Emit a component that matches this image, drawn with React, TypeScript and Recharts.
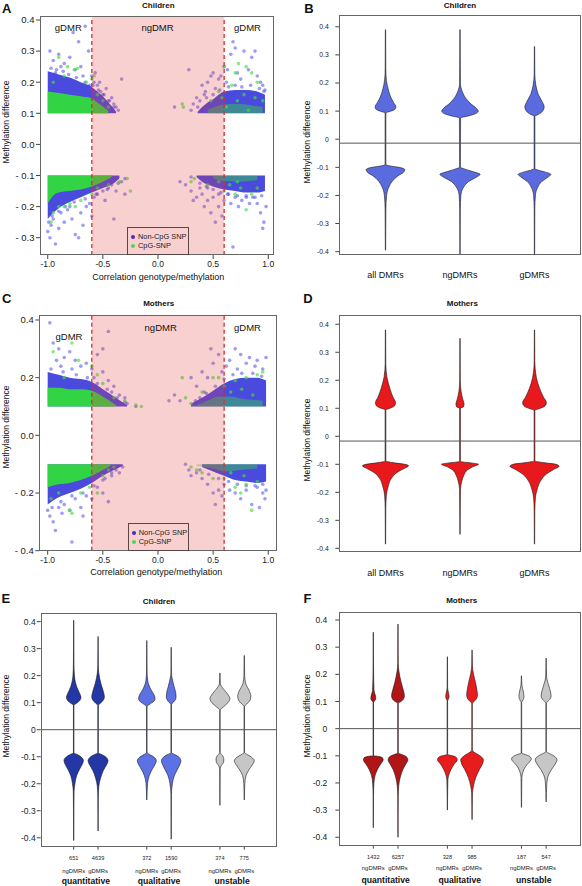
import React from 'react';
import { ComposedChart, Area, Scatter, XAxis, YAxis, ReferenceLine, ReferenceArea } from 'recharts';

const FONT = '"Liberation Sans", Arial, Helvetica, sans-serif';

// ---------------- Panels A / C : scatter (correlation vs methylation difference) ----------------
const corrTicks = [-1, -0.5, 0, 0.5, 1];
const aYTicks = [-0.3, -0.2, -0.1, 0, 0.1, 0.2, 0.3, 0.4];
const cYTicks = [-0.4, -0.2, 0, 0.2, 0.4];

// dense cluster envelopes: [correlation, low diff, high diff]
const aBlueTL = [[-1.0, 0.1, 0.235], [-0.9, 0.1, 0.225], [-0.8, 0.1, 0.215], [-0.7, 0.1, 0.2], [-0.6, 0.1, 0.185], [-0.55, 0.1, 0.17], [-0.5, 0.1, 0.155], [-0.45, 0.1, 0.135], [-0.4, 0.1, 0.115], [-0.38, 0.1, 0.105]];
const aGreenTL = [[-1.0, 0.1, 0.17], [-0.9, 0.1, 0.165], [-0.8, 0.1, 0.16], [-0.7, 0.1, 0.155], [-0.6, 0.1, 0.148], [-0.55, 0.1, 0.135], [-0.5, 0.1, 0.122], [-0.45, 0.1, 0.108]];
const aBlueTR = [[0.36, 0.1, 0.105], [0.4, 0.1, 0.12], [0.45, 0.1, 0.135], [0.5, 0.1, 0.145], [0.55, 0.1, 0.16], [0.6, 0.1, 0.17], [0.7, 0.1, 0.175], [0.8, 0.1, 0.175], [0.9, 0.1, 0.17], [0.97, 0.1, 0.16]];
const aGreenTR = [[0.45, 0.1, 0.11], [0.55, 0.1, 0.125], [0.65, 0.1, 0.13], [0.75, 0.1, 0.13], [0.85, 0.1, 0.125], [0.95, 0.1, 0.12]];
const aBlueBL = [[-1.0, -0.24, -0.1], [-0.95, -0.22, -0.1], [-0.9, -0.205, -0.1], [-0.8, -0.185, -0.1], [-0.7, -0.17, -0.1], [-0.6, -0.155, -0.1], [-0.5, -0.14, -0.1], [-0.4, -0.125, -0.1], [-0.35, -0.11, -0.1]];
const aGreenBL = [[-1.0, -0.19, -0.1], [-0.95, -0.165, -0.1], [-0.9, -0.155, -0.1], [-0.8, -0.15, -0.1], [-0.7, -0.145, -0.1], [-0.6, -0.135, -0.1], [-0.5, -0.12, -0.1], [-0.42, -0.105, -0.1]];
const aBlueBR = [[0.35, -0.105, -0.1], [0.4, -0.12, -0.1], [0.5, -0.135, -0.1], [0.6, -0.145, -0.1], [0.7, -0.15, -0.1], [0.8, -0.155, -0.1], [0.9, -0.155, -0.1], [0.97, -0.15, -0.1]];
const aGreenBR = [[0.5, -0.11, -0.1], [0.6, -0.118, -0.1], [0.75, -0.12, -0.1], [0.9, -0.115, -0.1]];

// sparse points: [correlation, diff]
const aBluePts = [
  [-0.98, 0.3], [-0.95, 0.27], [-0.9, 0.29], [-0.85, 0.26], [-0.8, 0.28], [-0.77, 0.36], [-0.72, 0.33], [-0.7, 0.25], [-0.66, 0.38], [-0.63, 0.3], [-0.6, 0.22], [-0.58, 0.2], [-0.55, 0.19], [-0.52, 0.17], [-0.5, 0.16], [-0.47, 0.18], [-0.45, 0.14], [-0.42, 0.15], [-0.4, 0.13], [-0.38, 0.12], [-0.33, 0.21], [-0.75, 0.24], [-0.88, 0.25], [-0.93, 0.23], [-0.68, 0.22], [-0.62, 0.19], [-0.57, 0.23], [-0.53, 0.2],
  [-0.97, 0.245], [-0.92, 0.24], [-0.86, 0.235], [-0.81, 0.225], [-0.74, 0.215], [-0.66, 0.2], [-0.59, 0.19], [-0.54, 0.175], [-0.49, 0.16], [-0.44, 0.14], [-0.4, 0.12], [-0.36, 0.11],
  [0.15, 0.12], [0.28, 0.24], [0.32, 0.13], [0.35, 0.15], [0.38, 0.14], [0.4, 0.19], [0.43, 0.17], [0.45, 0.2], [0.48, 0.22], [0.5, 0.23], [0.52, 0.18], [0.55, 0.21], [0.57, 0.22], [0.6, 0.25], [0.63, 0.24], [0.66, 0.29], [0.68, 0.33], [0.7, 0.31], [0.72, 0.23], [0.75, 0.21], [0.78, 0.3], [0.82, 0.24], [0.85, 0.28], [0.88, 0.3], [0.9, 0.22], [0.93, 0.2], [0.95, 0.19], [0.97, 0.175], [0.62, 0.2], [0.42, 0.16],
  [0.44, 0.15], [0.5, 0.16], [0.56, 0.175], [0.64, 0.185], [0.7, 0.19], [0.76, 0.185], [0.84, 0.19], [0.92, 0.18], [0.96, 0.17], [0.4, 0.11], [0.36, 0.12], [0.3, 0.11],
  [-1.0, -0.28], [-0.98, -0.3], [-0.97, -0.26], [-0.95, -0.24], [-0.93, -0.32], [-0.9, -0.27], [-0.88, -0.22], [-0.85, -0.25], [-0.82, -0.21], [-0.78, -0.24], [-0.75, -0.29], [-0.72, -0.3], [-0.7, -0.22], [-0.65, -0.2], [-0.62, -0.19], [-0.58, -0.17], [-0.55, -0.16], [-0.5, -0.15], [-0.45, -0.14], [-0.42, -0.13], [-0.4, -0.24], [-0.3, -0.16], [-0.33, -0.12], [-0.38, -0.15], [-0.68, -0.26], [-0.8, -0.2], [-0.6, -0.23], [-0.48, -0.18],
  [-0.99, -0.25], [-0.96, -0.23], [-0.9, -0.215], [-0.84, -0.2], [-0.76, -0.185], [-0.66, -0.175], [-0.56, -0.16], [-0.46, -0.145], [-0.36, -0.125], [-0.3, -0.11],
  [0.2, -0.12], [0.25, -0.13], [0.3, -0.15], [0.32, -0.18], [0.35, -0.17], [0.38, -0.14], [0.4, -0.16], [0.42, -0.2], [0.45, -0.18], [0.48, -0.22], [0.5, -0.17], [0.52, -0.25], [0.55, -0.2], [0.58, -0.23], [0.6, -0.18], [0.63, -0.16], [0.66, -0.19], [0.68, -0.33], [0.7, -0.17], [0.73, -0.2], [0.76, -0.18], [0.8, -0.17], [0.83, -0.19], [0.86, -0.17], [0.9, -0.19], [0.93, -0.22], [0.95, -0.27], [0.96, -0.25], [0.98, -0.2], [0.55, -0.16], [0.45, -0.14],
  [0.38, -0.125], [0.44, -0.135], [0.5, -0.145], [0.57, -0.155], [0.64, -0.16], [0.72, -0.165], [0.8, -0.165], [0.88, -0.17], [0.94, -0.165], [0.3, -0.105],
];
const aGreenPts = [
  [-0.9, 0.28], [-0.82, 0.25], [-0.76, 0.24], [-0.73, 0.245], [-0.6, 0.21], [-0.58, 0.22], [-0.55, 0.16], [-0.5, 0.14], [-0.45, 0.12], [-0.85, 0.22], [-0.95, 0.2], [-0.65, 0.2],
  [0.22, 0.13], [0.23, 0.12], [0.55, 0.17], [0.6, 0.25], [0.7, 0.23], [0.73, 0.26], [0.8, 0.25], [0.85, 0.23], [0.9, 0.2], [0.67, 0.19], [0.78, 0.16], [0.48, 0.14], [0.58, 0.15], [0.88, 0.15], [0.95, 0.14], [0.62, 0.12], [0.72, 0.14], [0.82, 0.11],
  [-0.95, -0.22], [-0.9, -0.2], [-0.85, -0.2], [-0.8, -0.19], [-0.75, -0.2], [-0.7, -0.18], [-0.6, -0.16], [-0.55, -0.14], [-0.45, -0.13], [-0.35, -0.12], [-0.28, -0.11], [-0.25, -0.15], [-0.97, -0.25],
  [0.3, -0.12], [0.33, -0.11], [0.45, -0.13], [0.6, -0.15], [0.7, -0.16], [0.75, -0.14], [0.8, -0.21], [0.85, -0.16], [0.9, -0.14], [0.65, -0.13], [0.55, -0.12], [0.72, -0.12],
];

const cBlueTL = [[-1.0, 0.1, 0.22], [-0.9, 0.1, 0.21], [-0.8, 0.1, 0.2], [-0.7, 0.1, 0.195], [-0.6, 0.1, 0.185], [-0.5, 0.1, 0.16], [-0.4, 0.1, 0.135], [-0.32, 0.1, 0.115], [-0.28, 0.1, 0.105]];
const cGreenTL = [[-1.0, 0.1, 0.165], [-0.9, 0.1, 0.165], [-0.8, 0.1, 0.16], [-0.7, 0.1, 0.16], [-0.6, 0.1, 0.155], [-0.5, 0.1, 0.135], [-0.42, 0.1, 0.115], [-0.38, 0.1, 0.105]];
const cBlueTR = [[0.3, 0.1, 0.11], [0.4, 0.1, 0.13], [0.5, 0.1, 0.155], [0.6, 0.1, 0.18], [0.7, 0.1, 0.195], [0.8, 0.1, 0.2], [0.9, 0.1, 0.2], [0.98, 0.1, 0.19]];
const cGreenTR = [[0.35, 0.1, 0.105], [0.45, 0.1, 0.12], [0.55, 0.1, 0.135], [0.65, 0.1, 0.135], [0.8, 0.1, 0.125], [0.95, 0.1, 0.12]];
const cBlueBL = [[-1.0, -0.24, -0.1], [-0.9, -0.215, -0.1], [-0.8, -0.2, -0.1], [-0.7, -0.185, -0.1], [-0.6, -0.165, -0.1], [-0.5, -0.14, -0.1], [-0.4, -0.12, -0.1], [-0.32, -0.105, -0.1]];
const cGreenBL = [[-1.0, -0.18, -0.1], [-0.9, -0.17, -0.1], [-0.8, -0.165, -0.1], [-0.7, -0.155, -0.1], [-0.6, -0.14, -0.1], [-0.5, -0.12, -0.1], [-0.43, -0.105, -0.1]];
const cBlueBR = [[0.4, -0.11, -0.1], [0.5, -0.125, -0.1], [0.6, -0.14, -0.1], [0.7, -0.155, -0.1], [0.8, -0.16, -0.1], [0.9, -0.165, -0.1], [0.98, -0.16, -0.1]];
const cGreenBR = [[0.35, -0.105, -0.1], [0.5, -0.115, -0.1], [0.6, -0.125, -0.1], [0.75, -0.12, -0.1], [0.9, -0.115, -0.1]];

const cBluePts = [
  [-0.98, 0.39], [-0.95, 0.32], [-0.9, 0.3], [-0.85, 0.27], [-0.8, 0.29], [-0.75, 0.26], [-0.7, 0.24], [-0.65, 0.25], [-0.6, 0.23], [-0.55, 0.28], [-0.5, 0.3], [-0.45, 0.36], [-0.5, 0.22], [-0.45, 0.19], [-0.4, 0.17], [-0.35, 0.14], [-0.3, 0.13], [-0.28, 0.11], [-0.2, 0.1], [-0.88, 0.24], [-0.78, 0.23], [-0.58, 0.2], [-0.42, 0.15], [-0.92, 0.26],
  [-0.97, 0.23], [-0.86, 0.22], [-0.74, 0.21], [-0.64, 0.2], [-0.55, 0.18], [-0.46, 0.16], [-0.37, 0.13], [-0.3, 0.115],
  [0.1, 0.12], [0.15, 0.14], [0.2, 0.12], [0.3, 0.2], [0.35, 0.17], [0.4, 0.22], [0.45, 0.2], [0.48, 0.3], [0.5, 0.25], [0.55, 0.28], [0.58, 0.22], [0.62, 0.24], [0.65, 0.26], [0.7, 0.3], [0.72, 0.23], [0.75, 0.28], [0.8, 0.25], [0.83, 0.27], [0.88, 0.24], [0.9, 0.26], [0.95, 0.23], [0.98, 0.27], [0.42, 0.15], [0.38, 0.13],
  [0.34, 0.12], [0.44, 0.145], [0.52, 0.17], [0.6, 0.195], [0.68, 0.21], [0.76, 0.215], [0.86, 0.215], [0.94, 0.205],
  [-1.0, -0.26], [-0.98, -0.28], [-0.95, -0.3], [-0.93, -0.33], [-0.9, -0.25], [-0.87, -0.27], [-0.85, -0.24], [-0.8, -0.26], [-0.78, -0.37], [-0.75, -0.22], [-0.7, -0.25], [-0.65, -0.21], [-0.6, -0.22], [-0.55, -0.18], [-0.5, -0.2], [-0.48, -0.15], [-0.45, -0.23], [-0.42, -0.14], [-0.38, -0.12], [-0.35, -0.13], [-0.32, -0.11], [-0.68, -0.28],
  [-0.96, -0.25], [-0.88, -0.23], [-0.78, -0.21], [-0.68, -0.2], [-0.58, -0.175], [-0.5, -0.155], [-0.42, -0.13],
  [0.25, -0.1], [0.28, -0.12], [0.3, -0.14], [0.35, -0.13], [0.4, -0.15], [0.45, -0.17], [0.5, -0.2], [0.55, -0.19], [0.52, -0.24], [0.58, -0.21], [0.6, -0.17], [0.65, -0.19], [0.7, -0.2], [0.75, -0.22], [0.8, -0.19], [0.85, -0.24], [0.9, -0.18], [0.95, -0.2], [0.97, -0.22], [0.98, -0.19], [0.92, -0.25],
  [0.38, -0.12], [0.46, -0.135], [0.55, -0.15], [0.64, -0.16], [0.72, -0.17], [0.8, -0.175], [0.88, -0.175], [0.95, -0.17],
];
const cGreenPts = [
  [-0.95, 0.29], [-0.78, 0.32], [-0.72, 0.26], [-0.6, 0.24], [-0.55, 0.21], [-0.5, 0.18], [-0.4, 0.13], [-0.3, 0.12], [-0.2, 0.105], [-0.15, 0.1], [-0.85, 0.2],
  [0.22, 0.2], [0.25, 0.13], [0.3, 0.11], [0.4, 0.15], [0.5, 0.2], [0.55, 0.2], [0.6, 0.17], [0.7, 0.19], [0.8, 0.2], [0.9, 0.21], [0.95, 0.22], [0.66, 0.15], [0.76, 0.16], [0.86, 0.14],
  [-0.97, -0.22], [-0.9, -0.2], [-0.8, -0.26], [-0.78, -0.27], [-0.7, -0.2], [-0.62, -0.18], [-0.55, -0.2], [-0.5, -0.14], [-0.45, -0.12], [-0.4, -0.11],
  [0.3, -0.11], [0.35, -0.12], [0.4, -0.13], [0.5, -0.15], [0.6, -0.15], [0.7, -0.18], [0.75, -0.2], [0.85, -0.26], [0.9, -0.16], [0.8, -0.17], [0.66, -0.13], [0.78, -0.14],
];

// ---------------- Panels B / D : violins (all / ng / g DMRs) ----------------
const dmrNames = ['all DMRs', 'ngDMRs', 'gDMRs'];
const dmrPos = [1, 2, 3];
const violinYTicks = [-0.4, -0.3, -0.2, -0.1, 0, 0.1, 0.2, 0.3, 0.4];
// profiles: [methylation difference, half density width]
const bAll = [[0.39, 0.002], [0.25, 0.004], [0.21, 0.012], [0.18, 0.035], [0.15, 0.07], [0.13, 0.11], [0.115, 0.14], [0.105, 0.12], [0.098, 0.05], [0.094, 0.005], [-0.09, 0.005], [-0.095, 0.06], [-0.1, 0.18], [-0.108, 0.26], [-0.118, 0.24], [-0.13, 0.17], [-0.15, 0.09], [-0.17, 0.045], [-0.2, 0.015], [-0.25, 0.005], [-0.395, 0.002]];
const bNg = [[0.39, 0.002], [0.2, 0.005], [0.17, 0.03], [0.145, 0.08], [0.125, 0.15], [0.11, 0.22], [0.1, 0.245], [0.09, 0.2], [0.082, 0.1], [0.076, 0.008], [-0.1, 0.005], [-0.105, 0.05], [-0.115, 0.17], [-0.125, 0.27], [-0.135, 0.22], [-0.15, 0.12], [-0.17, 0.05], [-0.2, 0.012], [-0.25, 0.004], [-0.42, 0.002]];
const bG = [[0.33, 0.002], [0.23, 0.004], [0.19, 0.02], [0.16, 0.05], [0.135, 0.1], [0.115, 0.13], [0.1, 0.11], [0.088, 0.05], [0.082, 0.005], [-0.105, 0.005], [-0.11, 0.05], [-0.118, 0.16], [-0.125, 0.22], [-0.135, 0.18], [-0.15, 0.1], [-0.17, 0.045], [-0.2, 0.012], [-0.25, 0.004], [-0.42, 0.002]];

const dAll = [[0.38, 0.002], [0.26, 0.004], [0.21, 0.02], [0.17, 0.06], [0.14, 0.1], [0.12, 0.135], [0.108, 0.12], [0.1, 0.06], [0.094, 0.005], [-0.088, 0.005], [-0.094, 0.1], [-0.1, 0.26], [-0.105, 0.31], [-0.115, 0.25], [-0.13, 0.15], [-0.15, 0.08], [-0.18, 0.035], [-0.21, 0.012], [-0.26, 0.004], [-0.385, 0.002]];
const dNg = [[0.35, 0.002], [0.2, 0.004], [0.16, 0.015], [0.13, 0.04], [0.115, 0.055], [0.105, 0.045], [0.1, 0.005], [-0.09, 0.005], [-0.095, 0.15], [-0.1, 0.25], [-0.108, 0.18], [-0.12, 0.1], [-0.14, 0.05], [-0.16, 0.025], [-0.19, 0.006], [-0.35, 0.002]];
const dG = [[0.38, 0.002], [0.27, 0.004], [0.21, 0.025], [0.17, 0.07], [0.14, 0.12], [0.12, 0.16], [0.108, 0.14], [0.098, 0.06], [0.093, 0.005], [-0.088, 0.005], [-0.094, 0.12], [-0.1, 0.29], [-0.107, 0.33], [-0.118, 0.26], [-0.135, 0.16], [-0.16, 0.08], [-0.19, 0.035], [-0.22, 0.012], [-0.27, 0.004], [-0.385, 0.002]];

// ---------------- Panels E / F : violins by DMR class ----------------
const classPos = [1, 2, 4, 5, 7, 8];
const classKinds = ['ngDMRs', 'gDMRs', 'ngDMRs', 'gDMRs', 'ngDMRs', 'gDMRs'];
const groupNames = ['quantitative', 'qualitative', 'unstable'];
const groupPos = [1.5, 4.5, 7.5];
const eCounts = ['651', '4639', '372', '1590', '374', '775'];
const fCounts = ['1432', '6257', '328', '985', '187', '547'];

const eQuantNg = [[0.405, 0.004], [0.25, 0.01], [0.2, 0.03], [0.16, 0.12], [0.135, 0.24], [0.12, 0.3], [0.108, 0.25], [0.098, 0.12], [0.09, 0.01], [-0.085, 0.01], [-0.092, 0.15], [-0.102, 0.32], [-0.115, 0.4], [-0.13, 0.34], [-0.15, 0.22], [-0.17, 0.12], [-0.2, 0.05], [-0.23, 0.015], [-0.3, 0.008], [-0.41, 0.004]];
const eQuantG = [[0.345, 0.004], [0.24, 0.01], [0.21, 0.03], [0.17, 0.12], [0.14, 0.22], [0.122, 0.26], [0.11, 0.22], [0.098, 0.1], [0.09, 0.01], [-0.085, 0.01], [-0.092, 0.15], [-0.102, 0.33], [-0.115, 0.41], [-0.13, 0.35], [-0.15, 0.22], [-0.18, 0.1], [-0.21, 0.03], [-0.25, 0.01], [-0.375, 0.004]];
const eQualNg = [[0.33, 0.004], [0.22, 0.01], [0.18, 0.04], [0.15, 0.16], [0.128, 0.3], [0.115, 0.34], [0.103, 0.26], [0.093, 0.1], [0.086, 0.01], [-0.085, 0.01], [-0.092, 0.12], [-0.102, 0.3], [-0.115, 0.39], [-0.13, 0.33], [-0.15, 0.2], [-0.17, 0.1], [-0.2, 0.03], [-0.26, 0.004]];
const eQualG = [[0.305, 0.004], [0.21, 0.01], [0.19, 0.04], [0.16, 0.12], [0.135, 0.19], [0.12, 0.2], [0.108, 0.15], [0.098, 0.05], [0.095, 0.01], [-0.085, 0.01], [-0.092, 0.15], [-0.102, 0.32], [-0.115, 0.4], [-0.13, 0.35], [-0.15, 0.24], [-0.17, 0.13], [-0.2, 0.05], [-0.24, 0.01], [-0.405, 0.004]];
const eUnstNg = [[0.21, 0.004], [0.17, 0.02], [0.15, 0.15], [0.13, 0.33], [0.115, 0.41], [0.1, 0.33], [0.085, 0.15], [0.072, 0.01], [-0.085, 0.01], [-0.095, 0.1], [-0.108, 0.16], [-0.12, 0.15], [-0.132, 0.06], [-0.145, 0.01], [-0.28, 0.004]];
const eUnstG = [[0.275, 0.004], [0.2, 0.015], [0.17, 0.06], [0.145, 0.2], [0.125, 0.27], [0.11, 0.24], [0.095, 0.1], [0.086, 0.01], [-0.085, 0.01], [-0.092, 0.12], [-0.102, 0.3], [-0.115, 0.41], [-0.13, 0.33], [-0.15, 0.18], [-0.17, 0.07], [-0.2, 0.02], [-0.26, 0.004]];

const fQuantNg = [[0.355, 0.004], [0.22, 0.01], [0.14, 0.03], [0.12, 0.09], [0.11, 0.1], [0.102, 0.05], [0.097, 0.01], [-0.1, 0.01], [-0.102, 0.2], [-0.108, 0.38], [-0.115, 0.4], [-0.13, 0.3], [-0.15, 0.17], [-0.17, 0.08], [-0.2, 0.025], [-0.25, 0.008], [-0.365, 0.004]];
const fQuantG = [[0.385, 0.004], [0.24, 0.01], [0.21, 0.04], [0.17, 0.13], [0.14, 0.22], [0.122, 0.26], [0.11, 0.23], [0.1, 0.12], [0.094, 0.01], [-0.09, 0.01], [-0.096, 0.18], [-0.105, 0.36], [-0.115, 0.4], [-0.13, 0.32], [-0.15, 0.2], [-0.18, 0.09], [-0.21, 0.03], [-0.25, 0.01], [-0.4, 0.004]];
const fQualNg = [[0.265, 0.004], [0.15, 0.01], [0.13, 0.05], [0.118, 0.07], [0.108, 0.04], [0.103, 0.01], [-0.095, 0.01], [-0.1, 0.22], [-0.108, 0.38], [-0.115, 0.4], [-0.13, 0.28], [-0.15, 0.15], [-0.17, 0.06], [-0.19, 0.02], [-0.3, 0.004]];
const fQualG = [[0.29, 0.004], [0.23, 0.015], [0.2, 0.06], [0.17, 0.14], [0.14, 0.2], [0.125, 0.22], [0.11, 0.18], [0.1, 0.08], [0.092, 0.01], [-0.08, 0.01], [-0.09, 0.14], [-0.1, 0.32], [-0.115, 0.46], [-0.13, 0.42], [-0.15, 0.3], [-0.18, 0.15], [-0.21, 0.06], [-0.24, 0.015], [-0.335, 0.004]];
const fUnstNg = [[0.195, 0.004], [0.16, 0.02], [0.135, 0.08], [0.118, 0.1], [0.105, 0.06], [0.098, 0.01], [-0.09, 0.01], [-0.096, 0.18], [-0.104, 0.36], [-0.112, 0.4], [-0.125, 0.3], [-0.14, 0.16], [-0.16, 0.06], [-0.18, 0.015], [-0.29, 0.004]];
const fUnstG = [[0.26, 0.004], [0.19, 0.02], [0.16, 0.1], [0.135, 0.18], [0.12, 0.2], [0.108, 0.15], [0.1, 0.06], [0.094, 0.01], [-0.085, 0.01], [-0.092, 0.14], [-0.102, 0.34], [-0.115, 0.44], [-0.13, 0.37], [-0.15, 0.22], [-0.17, 0.1], [-0.2, 0.03], [-0.27, 0.004]];

// ---------------- colours ----------------
const BLUE = '#2a2ad8';
const GREEN = '#2fe62f';
const PT_BLUE = '#3c3ce8';
const PT_GREEN = '#3fe03f';
const CH_BLUE = '#5a6be0';
const MO_RED = '#e8191c';
const Q_BLUE = '#2338a6';
const QL_BLUE = '#5c71e4';
const Q_RED = '#b01518';
const QL_RED = '#e81c1c';
const GREY = '#c6c6c6';

// ---------------- helpers ----------------
type Box = { l: number; t: number; r: number; b: number };
type Outer = { x: number; y: number; w: number; h: number };
// axes take 1px (YAxis width) and 1px per bottom XAxis
const marginOf = (o: Outer, b: Box, nX: number) => ({ left: b.l - o.x - 1, top: b.t - o.y, right: o.x + o.w - b.r, bottom: o.y + o.h - b.b - nX });
const envRows = (env: number[][]) => env.map(([x, lo, hi]) => ({ x, r: [lo, hi] }));
const ptRows = (pts: number[][]) => pts.map(([x, y]) => ({ x, y }));
const violinRows = (pos: number, prof: number[][]) => prof.map(([y, w]) => ({ y, r: [pos - w, pos + w] }));
const NBSP = '\u00a0';
const fmtScatterY = (v: number) => (v < 0 ? `-${NBSP}${Math.abs(v).toFixed(1)}` : v.toFixed(1));
const fmtViolinY = (v: number) => (v === 0 ? '0' : v.toFixed(1));

const dot = (color: string, op: number) => (p: any) => (
  <circle cx={p.cx} cy={p.cy} r={1.8} fill={color} fillOpacity={op} />
);

function T({ x, y, size, bold, rot, children }: any) {
  return (
    <div
      style={{
        position: 'absolute', left: x, top: y,
        transform: `translate(-50%, -50%)${rot ? ' rotate(-90deg)' : ''}`,
        fontSize: size, fontWeight: bold ? 700 : 400, lineHeight: 1, whiteSpace: 'nowrap',
        color: '#111', fontFamily: FONT,
      }}
    >
      {children}
    </div>
  );
}

function Frame({ b }: { b: Box }) {
  return (
    <div style={{ position: 'absolute', left: b.l, top: b.t, width: b.r - b.l, height: b.b - b.t, border: '1px solid #666', boxSizing: 'border-box', pointerEvents: 'none' }} />
  );
}

function ScatterPanel({ o, b, xDomain, yDomain, yTicks, blueEnv, greenEnv, greenEnvLight, bluePts, greenPts }: any) {
  return (
    <div style={{ position: 'absolute', left: o.x, top: o.y, width: o.w, height: o.h }}>
      <ComposedChart width={o.w} height={o.h} margin={marginOf(o, b, 1)}>
        <XAxis type="number" dataKey="x" domain={xDomain} allowDataOverflow ticks={corrTicks} interval={0}
          tickFormatter={(v: number) => v.toFixed(1)} height={1} axisLine={false} tickSize={4} tickMargin={2}
          stroke="#444" tick={{ fontSize: 8.5, fill: '#222', fontFamily: FONT }} />
        <YAxis type="number" dataKey="y" domain={yDomain} allowDataOverflow ticks={yTicks} interval={0}
          tickFormatter={fmtScatterY} width={1} axisLine={false} tickSize={4} tickMargin={1.5}
          stroke="#444" tick={{ fontSize: 9.5, fill: '#222', fontFamily: FONT }} />
        {blueEnv.map((e: number[][], i: number) => (
          <Area key={'be' + i} data={envRows(e)} dataKey="r" type="monotone" stroke="none" fill={BLUE} fillOpacity={0.85} isAnimationActive={false} />
        ))}
        {greenEnv.map((e: number[][], i: number) => (
          <Area key={'ge' + i} data={envRows(e)} dataKey="r" type="monotone" stroke="none" fill={GREEN} fillOpacity={0.88} isAnimationActive={false} />
        ))}
        {greenEnvLight.map((e: number[][], i: number) => (
          <Area key={'gl' + i} data={envRows(e)} dataKey="r" type="monotone" stroke="none" fill={GREEN} fillOpacity={0.4} isAnimationActive={false} />
        ))}
        <Scatter data={ptRows(bluePts)} fill={PT_BLUE} shape={dot(PT_BLUE, 0.5)} isAnimationActive={false} />
        <Scatter data={ptRows(greenPts)} fill={PT_GREEN} shape={dot(PT_GREEN, 0.65)} isAnimationActive={false} />
        <ReferenceArea x1={-0.6} x2={0.6} y1={yDomain[0]} y2={yDomain[1]} fill="#e23b3b" fillOpacity={0.24} stroke="none" ifOverflow="hidden" zIndex={650} />
        <ReferenceLine x={-0.6} stroke="#d62f2b" strokeDasharray="4 3" strokeWidth={1.3} zIndex={700} />
        <ReferenceLine x={0.6} stroke="#d62f2b" strokeDasharray="4 3" strokeWidth={1.3} zIndex={700} />
      </ComposedChart>
    </div>
  );
}

function ViolinPanel({ o, b, yDomain, hLine, violins, yFont, yTickMargin, xAxis, xAxis2 }: any) {
  return (
    <div style={{ position: 'absolute', left: o.x, top: o.y, width: o.w, height: o.h }}>
      <ComposedChart layout="vertical" width={o.w} height={o.h} margin={marginOf(o, b, xAxis2 ? 2 : 1)}>
        {xAxis}
        {xAxis2}
        <YAxis type="number" dataKey="y" reversed domain={yDomain} allowDataOverflow ticks={violinYTicks} interval={0}
          tickFormatter={fmtViolinY} width={1} axisLine={false} tickSize={4} tickMargin={yTickMargin}
          stroke="#444" tick={{ fontSize: yFont, fill: '#222', fontFamily: FONT }} />
        <ReferenceLine y={hLine} stroke="#555" strokeWidth={1} />
        {violins.map((v: any, i: number) => (
          <Area key={'v' + i} data={violinRows(v.pos, v.prof)} dataKey="r" type="monotone"
            stroke="#1a1a1a" strokeWidth={0.6} fill={v.color} fillOpacity={1} isAnimationActive={false} />
        ))}
      </ComposedChart>
    </div>
  );
}

const makeDmrTick = (d: number) => (p: any) => (
  <text x={p.x} y={p.y + d} textAnchor="middle" dominantBaseline="central" fontSize={9} fill="#111" fontFamily={FONT}>
    {dmrNames[dmrPos.indexOf(p.payload.value)]}
  </text>
);
const dmrAxis = (d: number) => (
  <XAxis type="number" domain={[0.38, 3.62]} allowDataOverflow ticks={dmrPos} interval={0}
    height={1} axisLine={false} tickLine={false} tickSize={0} tickMargin={0} tick={makeDmrTick(d)} />
);

const makeCountTick = (counts: string[], d1: number, d2: number) => (p: any) => {
  const i = classPos.indexOf(p.payload.value);
  return (
    <g>
      <text x={p.x} y={p.y + d1} textAnchor="middle" dominantBaseline="central" fontSize={5.6} fill="#222" fontFamily={FONT}>{counts[i]}</text>
      <text x={p.x} y={p.y + d2} textAnchor="middle" dominantBaseline="central" fontSize={5.9} fill="#222" fontFamily={FONT}>{classKinds[i]}</text>
    </g>
  );
};
const makeGroupTick = (d: number) => (p: any) => {
  const i = groupPos.indexOf(p.payload.value);
  return (
    <text x={p.x} y={p.y + d} textAnchor="middle" dominantBaseline="central" fontSize={8.6} fontWeight="bold" fill="#111" fontFamily={FONT}>{groupNames[i]}</text>
  );
};
const classAxis = (domain: number[], counts: string[], d1: number, d2: number) => (
  <XAxis type="number" domain={domain} allowDataOverflow ticks={classPos} interval={0} height={1}
    axisLine={false} tickSize={3} tickMargin={0} stroke="#444" tick={makeCountTick(counts, d1, d2)} />
);
const groupAxis = (domain: number[], d: number) => (
  <XAxis xAxisId="grp" type="number" domain={domain} allowDataOverflow ticks={groupPos} interval={0} height={1}
    axisLine={false} tickLine={false} tickSize={0} tickMargin={0} tick={makeGroupTick(d)} />
);

// ---------------- layout ----------------
const oA = { x: 0, y: 0, w: 291, h: 290 }; const bA = { l: 40, t: 16, r: 274, b: 255 };
const oB = { x: 290, y: 0, w: 292, h: 290 }; const bB = { l: 339.3, t: 15, r: 580.7, b: 255 };
const oC = { x: 0, y: 290, w: 291, h: 296 }; const bC = { l: 39.3, t: 315, r: 277.3, b: 550.7 };
const oD = { x: 290, y: 290, w: 292, h: 296 }; const bD = { l: 339.3, t: 315, r: 580.7, b: 551.7 };
const oE = { x: 0, y: 586, w: 291, h: 300 }; const bE = { l: 40.7, t: 612.7, r: 276.7, b: 846.7 };
const oF = { x: 290, y: 586, w: 292, h: 300 }; const bF = { l: 339.3, t: 611.7, r: 580.7, b: 845.7 };

const eDomain = [-0.354, 9.33];
const fDomain = [-0.377, 9.4];

function Legend({ l, t, w, h }: any) {
  const row = (color: string, label: string, top: number) => (
    <div style={{ position: 'absolute', left: 3, top, display: 'flex', alignItems: 'center', fontSize: 7.4, lineHeight: 1, whiteSpace: 'nowrap', fontFamily: FONT, color: '#222' }}>
      <span style={{ display: 'inline-block', width: 4, height: 4, borderRadius: 2, background: color, marginRight: 3 }} />
      {label}
    </div>
  );
  return (
    <div style={{ position: 'absolute', left: l, top: t, width: w, height: h, border: '1px solid #5b4444', boxSizing: 'border-box' }}>
      {row('#4a2bc8', 'Non-CpG SNP', 5)}
      {row('#4fd84f', 'CpG-SNP', 14)}
    </div>
  );
}

export default function App() {
  return (
    <div style={{ position: 'absolute', left: 0, top: 0, width: 582, height: 886, background: '#fff', overflow: 'hidden', fontFamily: FONT }}>
      <ScatterPanel o={oA} b={bA} xDomain={[-1.07, 1.052]} yDomain={[-0.3556, 0.4129]} yTicks={aYTicks}
        blueEnv={[aBlueTL, aBlueTR, aBlueBL, aBlueBR]} greenEnv={[aGreenTL, aGreenBL]} greenEnvLight={[aGreenTR, aGreenBR]}
        bluePts={aBluePts} greenPts={aGreenPts} />
      <ScatterPanel o={oC} b={bC} xDomain={[-1.076, 1.082]} yDomain={[-0.4, 0.4173]} yTicks={cYTicks}
        blueEnv={[cBlueTL, cBlueTR, cBlueBL, cBlueBR]} greenEnv={[cGreenTL, cGreenBL]} greenEnvLight={[cGreenTR, cGreenBR]}
        bluePts={cBluePts} greenPts={cGreenPts} />

      <ViolinPanel o={oB} b={bB} yDomain={[-0.412, 0.442]} hLine={-0.014} yFont={6.8} yTickMargin={6.5}
        xAxis={dmrAxis(19.5)}
        violins={[{ pos: 1, prof: bAll, color: CH_BLUE }, { pos: 2, prof: bNg, color: CH_BLUE }, { pos: 3, prof: bG, color: CH_BLUE }]} />
      <ViolinPanel o={oD} b={bD} yDomain={[-0.412, 0.433]} hLine={-0.017} yFont={6.8} yTickMargin={6.5}
        xAxis={dmrAxis(21)}
        violins={[{ pos: 1, prof: dAll, color: MO_RED }, { pos: 2, prof: dNg, color: MO_RED }, { pos: 3, prof: dG, color: MO_RED }]} />

      <ViolinPanel o={oE} b={bE} yDomain={[-0.433, 0.433]} hLine={0} yFont={8.5} yTickMargin={1}
        xAxis={classAxis(eDomain, eCounts, 8.6, 21.1)} xAxis2={groupAxis(eDomain, 33.5)}
        violins={[
          { pos: 1, prof: eQuantNg, color: Q_BLUE }, { pos: 2, prof: eQuantG, color: Q_BLUE },
          { pos: 4, prof: eQualNg, color: QL_BLUE }, { pos: 5, prof: eQualG, color: QL_BLUE },
          { pos: 7, prof: eUnstNg, color: GREY }, { pos: 8, prof: eUnstG, color: GREY },
        ]} />
      <ViolinPanel o={oF} b={bF} yDomain={[-0.431, 0.4306]} hLine={0} yFont={8.5} yTickMargin={8}
        xAxis={classAxis(fDomain, fCounts, 8, 19.6)} xAxis2={groupAxis(fDomain, 33)}
        violins={[
          { pos: 1, prof: fQuantNg, color: Q_RED }, { pos: 2, prof: fQuantG, color: Q_RED },
          { pos: 4, prof: fQualNg, color: QL_RED }, { pos: 5, prof: fQualG, color: QL_RED },
          { pos: 7, prof: fUnstNg, color: GREY }, { pos: 8, prof: fUnstG, color: GREY },
        ]} />

      <Frame b={bA} /><Frame b={bB} /><Frame b={bC} /><Frame b={bD} /><Frame b={bE} /><Frame b={bF} />

      <Legend l={127} t={227} w={62} h={28} />
      <Legend l={127.7} t={523} w={61.6} h={27.7} />

      {/* panel letters */}
      <T x={6.7} y={8.2} size={13} bold>A</T>
      <T x={309} y={7.5} size={13} bold>B</T>
      <T x={6.7} y={298.3} size={13} bold>C</T>
      <T x={308} y={298} size={13} bold>D</T>
      <T x={5.8} y={598.3} size={13} bold>E</T>
      <T x={307.5} y={598.3} size={13} bold>F</T>

      {/* titles */}
      <T x={158.3} y={5.5} size={8} bold>Children</T>
      <T x={460} y={5.5} size={8} bold>Children</T>
      <T x={158.7} y={304.2} size={8} bold>Mothers</T>
      <T x={462.3} y={304} size={8} bold>Mothers</T>
      <T x={159} y={601.7} size={8} bold>Children</T>
      <T x={461.7} y={600.7} size={8} bold>Mothers</T>

      {/* axis titles */}
      <T x={6.3} y={122} size={8.5} rot>Methylation difference</T>
      <T x={306.5} y={142} size={8.5} rot>Methylation difference</T>
      <T x={6} y={427} size={8.5} rot>Methylation difference</T>
      <T x={307} y={440} size={8.5} rot>Methylation difference</T>
      <T x={6} y={716} size={8.5} rot>Methylation difference</T>
      <T x={307} y={716} size={8.5} rot>Methylation difference</T>
      <T x={158.3} y={276.5} size={9}>Correlation genotype/methylation</T>
      <T x={156.3} y={572.3} size={9}>Correlation genotype/methylation</T>

      {/* region labels */}
      <T x={68.3} y={28.3} size={9.5}>gDMR</T>
      <T x={157.5} y={28.3} size={9.5}>ngDMR</T>
      <T x={247.5} y={28.3} size={9.5}>gDMR</T>
      <T x={69} y={337} size={9.5}>gDMR</T>
      <T x={160.7} y={328.3} size={9.5}>ngDMR</T>
      <T x={247.5} y={328.3} size={9.5}>gDMR</T>
    </div>
  );
}
